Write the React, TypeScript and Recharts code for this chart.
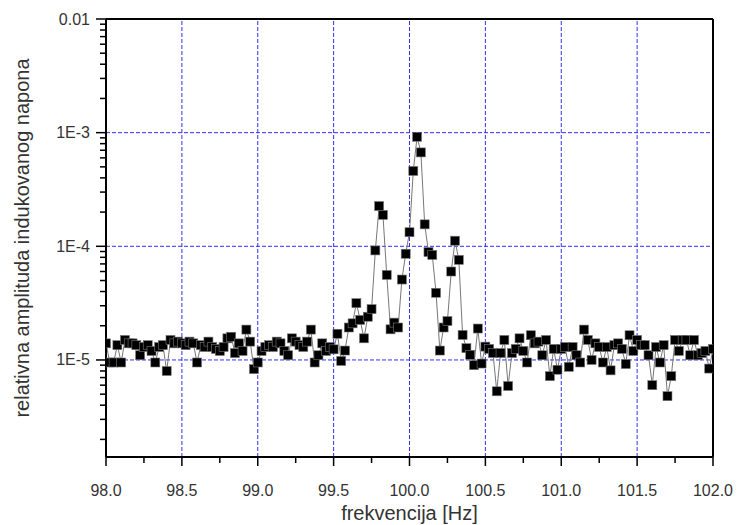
import React from 'react';
import { LineChart, Line, XAxis, YAxis, ReferenceLine, Label } from 'recharts';

// frequency grid: 98.0 .. 102.0 Hz, 161 samples
const freqStart = 98.0;
const freqStep = 0.025;

// relative amplitude, one value per sample
const amplitudes = [
  1.4e-5, 9.5e-6, 9.5e-6, 1.35e-5, 9.5e-6, 1.5e-5, 1.4e-5, 1.4e-5, 1.35e-5, 1.1e-5,
  1.3e-5, 1.35e-5, 1.2e-5, 9.5e-6, 1.3e-5, 1.35e-5, 8.0e-6, 1.5e-5, 1.4e-5, 1.45e-5,
  1.4e-5, 1.35e-5, 1.45e-5, 1.4e-5, 9.5e-6, 1.35e-5, 1.3e-5, 1.45e-5, 1.3e-5, 1.25e-5,
  1.2e-5, 1.3e-5, 1.55e-5, 1.6e-5, 1.15e-5, 1.4e-5, 1.2e-5, 1.85e-5, 1.45e-5, 8.3e-6,
  9.5e-6, 1.2e-5, 1.3e-5, 1.35e-5, 1.3e-5, 1.45e-5, 1.4e-5, 1.2e-5, 1.1e-5, 1.55e-5,
  1.45e-5, 1.35e-5, 1.3e-5, 1.45e-5, 1.85e-5, 9.5e-6, 1.1e-5, 1.4e-5, 1.2e-5, 1.3e-5,
  1.24e-5, 1.7e-5, 9.8e-6, 1.21e-5, 1.93e-5, 2.1e-5, 3.16e-5, 2.25e-5, 1.55e-5, 2.4e-5,
  2.8e-5, 9.2e-5, 2.26e-4, 1.89e-4, 5.6e-5, 1.86e-5, 2.13e-5, 1.93e-5, 5.1e-5, 8.6e-5,
  1.33e-4, 4.6e-4, 9.2e-4, 6.7e-4, 1.56e-4, 8.9e-5, 8.4e-5, 3.9e-5, 1.21e-5, 1.93e-5,
  2.2e-5, 6.0e-5, 1.12e-4, 7.6e-5, 1.66e-5, 1.27e-5, 1.11e-5, 9.0e-6, 1.89e-5, 9.3e-6,
  1.31e-5, 1.25e-5, 1.15e-5, 5.3e-6, 1.15e-5, 1.5e-5, 5.9e-6, 1.15e-5, 1.25e-5, 1.55e-5,
  1.2e-5, 9.5e-6, 1.65e-5, 1.4e-5, 1.45e-5, 1.1e-5, 1.5e-5, 7.2e-6, 1.25e-5, 8.2e-6,
  1.25e-5, 1.3e-5, 8.7e-6, 1.3e-5, 1.1e-5, 9.5e-6, 1.85e-5, 1.5e-5, 1.0e-5, 1.4e-5,
  1.3e-5, 9.5e-6, 1.3e-5, 8.1e-6, 1.35e-5, 1.4e-5, 1.25e-5, 9.2e-6, 1.65e-5, 1.2e-5,
  1.5e-5, 1.35e-5, 1.35e-5, 1.1e-5, 6.0e-6, 1.3e-5, 9.5e-6, 1.35e-5, 4.8e-6, 7.2e-6,
  1.5e-5, 1.2e-5, 1.5e-5, 1.5e-5, 1.1e-5, 1.5e-5, 1.1e-5, 1.15e-5, 1.2e-5, 8.4e-6,
  1.25e-5,
];

// axis ticks
const xTicks = [98, 98.25, 98.5, 98.75, 99, 99.25, 99.5, 99.75, 100, 100.25, 100.5, 100.75, 101, 101.25, 101.5, 101.75, 102];
const xGrid = [98.5, 99, 99.5, 100, 100.5, 101, 101.5];
const yMajor = [1e-5, 1e-4, 1e-3, 1e-2];
const yGrid = [1e-5, 1e-4, 1e-3];
const yMinorMult = [2, 3, 4, 5, 6, 7, 8, 9];
const yMinorDecades = [1e-6, 1e-5, 1e-4, 1e-3];

const data = amplitudes.map((v, i) => ({ f: freqStart + i * freqStep, v }));
const yTicks = [
  ...yMajor,
  ...yMinorDecades.flatMap((d) => yMinorMult.map((m) => m * d)),
].sort((a, b) => a - b);

const FONT = '"Liberation Sans", Arial, sans-serif';
const GRID = '#3030ff';

const isMajorY = (v: number) => yMajor.some((m) => Math.abs(v / m - 1) < 1e-9);
const yLabel = (v: number) => {
  if (Math.abs(v - 0.01) < 1e-12) return '0.01';
  return '1E' + Math.round(Math.log10(v));
};

// tick marks drawn by hand so major/minor can have different lengths
const YTick = (props: any) => {
  const { x, y, payload } = props;
  const major = isMajorY(payload.value);
  const len = major ? 10 : 6;
  return (
    <g>
      <rect x={x - len} y={y - 0.75} width={len} height={1.5} fill="#000" />
      {major && (
        <text x={x - 16} y={y} textAnchor="end" dominantBaseline="central" fontFamily={FONT} fontSize={16} fill="#333">
          {yLabel(payload.value)}
        </text>
      )}
    </g>
  );
};

const XTick = (props: any) => {
  const { x, y, payload } = props;
  const v = payload.value as number;
  const major = Math.abs(v * 2 - Math.round(v * 2)) < 1e-9;
  return (
    <g>
      <rect x={x - 0.75} y={y} width={1.5} height={major ? 9 : 6} fill="#000" />
      {major && (
        <text x={x} y={y + 39} textAnchor="middle" fontFamily={FONT} fontSize={16} fill="#333">
          {v.toFixed(1)}
        </text>
      )}
    </g>
  );
};

const Square = (props: any) => {
  const { cx, cy, index } = props;
  if (cx == null || cy == null) return <g key={index} />;
  return <rect key={index} x={cx - 4.5} y={cy - 4.5} width={9} height={9} fill="#000" stroke="#777" strokeWidth={0.6} />;
};

export default function App() {
  return (
    <div style={{ position: 'absolute', left: 0, top: 0, background: '#fff' }}>
      <LineChart width={737} height={525} data={data} margin={{ top: 19, right: 24, bottom: 0, left: 0 }}>
        {xGrid.map((g) => (
          <ReferenceLine key={'vx' + g} x={g} stroke={GRID} strokeDasharray="4 2" strokeWidth={1} />
        ))}
        {yGrid.map((g) => (
          <ReferenceLine key={'hy' + g} y={g} stroke={GRID} strokeDasharray="4 2" strokeWidth={1} />
        ))}
        <ReferenceLine y={1e-2} stroke="#000" strokeWidth={2} />
        <ReferenceLine x={102} stroke="#000" strokeWidth={2} />
        <XAxis
          dataKey="f"
          type="number"
          domain={[98, 102]}
          ticks={xTicks}
          interval={0}
          allowDataOverflow
          height={68}
          tickSize={0}
          tickMargin={0}
          tickLine={false}
          axisLine={{ stroke: '#000', strokeWidth: 2 }}
          tick={<XTick />}
        >
          <Label
            content={({ viewBox }: any) => (
              <text
                x={viewBox.x + viewBox.width / 2}
                y={viewBox.y + 63}
                textAnchor="middle"
                fontFamily={FONT}
                fontSize={20}
                fill="#333"
              >
                frekvencija [Hz]
              </text>
            )}
          />
        </XAxis>
        <YAxis
          dataKey="v"
          scale="log"
          domain={[1.4e-6, 0.01]}
          ticks={yTicks}
          interval={0}
          allowDataOverflow
          width={106}
          tickSize={0}
          tickMargin={0}
          tickLine={false}
          axisLine={{ stroke: '#000', strokeWidth: 2 }}
          tick={<YTick />}
        >
          <Label
            content={({ viewBox }: any) => (
              <text
                transform={`translate(${viewBox.x + 22}, ${viewBox.y + viewBox.height / 2}) rotate(-90)`}
                textAnchor="middle"
                dominantBaseline="central"
                fontFamily={FONT}
                fontSize={20}
                fill="#333"
              >
                relativna amplituda indukovanog napona
              </text>
            )}
          />
        </YAxis>
        <Line
          dataKey="v"
          type="linear"
          stroke="#777"
          strokeWidth={1}
          dot={<Square />}
          activeDot={false}
          isAnimationActive={false}
        />
      </LineChart>
    </div>
  );
}
